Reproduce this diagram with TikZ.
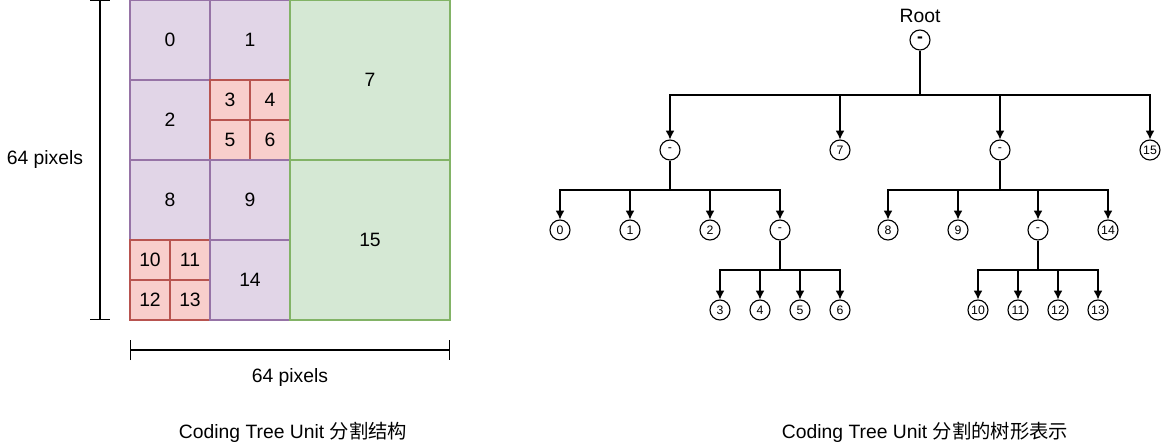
\documentclass[tikz,border=0pt]{standalone}
\usepackage{fontspec}
\setmainfont{Liberation Sans}
\newfontfamily\cjk{Noto Sans CJK SC}
\usepackage{xcolor}
\usetikzlibrary{arrows.meta, positioning, calc}
\definecolor{purpfill}{HTML}{E1D5E7}
\definecolor{purpline}{HTML}{9673A6}
\definecolor{redfill}{HTML}{F8CECC}
\definecolor{redline}{HTML}{B85450}
\definecolor{grnfill}{HTML}{D5E8D4}
\definecolor{grnline}{HTML}{82B366}
\tikzset{
	% blocks of the CTU
	blkp/.style={
		draw=purpline, fill=purpfill,
		line width=0.6pt, inner sep=0pt,
		minimum size=1.6cm,
		font=\fontsize{11}{13}\selectfont
	}, %
	blkr/.style={
		blkp, draw=redline, fill=redfill,
		minimum size=0.8cm
	}, %
	blkg/.style={
		blkp, draw=grnline, fill=grnfill,
		minimum size=3.2cm
	}, %
	% tree nodes
	tnode/.style={
		circle, draw, line width=0.65pt,
		inner sep=0pt, minimum size=0.4cm,
		font=\fontsize{7}{8}\selectfont
	}, %
	arr/.style={
		line width=0.65pt,
		-{Latex[length=5pt,width=5pt]}
	}, %
	txt/.style={font=\fontsize{11}{13}\selectfont}
}

\begin{document}
\begin{tikzpicture}[x=0.02cm, y=-0.02cm]
	\useasboundingbox (0,0) rectangle (1161,443);

	% grid
	\node[blkp] (b0) at (170,40) {0};
	\node[blkp] (b1) at (250,40) {1};
	\node[blkp] (b2) at (170,120) {2};
	\node[blkr] (b3) at (230,100) {3};
	\node[blkr] (b4) at (270,100) {4};
	\node[blkr] (b5) at (230,140) {5};
	\node[blkr] (b6) at (270,140) {6};
	\node[blkg] (b7) at (370,80) {7};
	\node[blkp] (b8) at (170,200) {8};
	\node[blkp] (b9) at (250,200) {9};
	\node[blkr] (b10) at (150,260) {10};
	\node[blkr] (b11) at (190,260) {11};
	\node[blkr] (b12) at (150,300) {12};
	\node[blkr] (b13) at (190,300) {13};
	\node[blkp] (b14) at (250,280) {14};
	\node[blkg] (b15) at (370,240) {15};

	% 64 pixels
	\coordinate (vt) at (100,0);
	\coordinate (vb) at (100,320);
	\draw[line width=0.6pt, {Bar[width=0.4cm]}-{Bar[width=0.4cm]}] (vt) -- (vb);
	\node[txt] (vlab) at (45,160) {64 pixels};
	\coordinate (hl) at (130,350);
	\coordinate (hr) at (450,350);
	\draw[line width=0.6pt, {Bar[width=0.4cm]}-{Bar[width=0.4cm]}] (hl) -- (hr);
	\node[txt] (hlab) at (290,377) {64 pixels};
	\node[txt] (capl) at (293,432) {Coding Tree Unit {\cjk 分割结构}};

	% tree
	\node[txt] (roottxt) at (920,16) {Root};
	\node[tnode, font=\fontsize{10}{11}\selectfont\bfseries] (root) at (920,40) {-};
	\node[tnode] (qa) at (670,150) {-};
	\node[tnode] (t7) at (840,150) {7};
	\node[tnode] (qb) at (1000,150) {-};
	\node[tnode] (t15) at (1150,150) {15};

	\node[tnode] (t0) at (560,230) {0};
	\node[tnode] (t1) at (630,230) {1};
	\node[tnode] (t2) at (710,230) {2};
	\node[tnode] (qc) at (780,230) {-};
	\node[tnode] (t8) at (888,230) {8};
	\node[tnode] (t9) at (958,230) {9};
	\node[tnode] (qd) at (1038,230) {-};
	\node[tnode] (t14) at (1108,230) {14};

	\node[tnode] (t3) at (720,310) {3};
	\node[tnode] (t4) at (760,310) {4};
	\node[tnode] (t5) at (800,310) {5};
	\node[tnode] (t6) at (840,310) {6};
	\node[tnode] (t10) at (978,310) {10};
	\node[tnode] (t11) at (1018,310) {11};
	\node[tnode] (t12) at (1058,310) {12};
	\node[tnode] (t13) at (1098,310) {13};

	% connectors
	\coordinate (busr) at (920,95);
	\draw[line width=0.65pt] (root) -- (busr);
	\foreach \c in {qa, t7, qb, t15}
		\draw[arr] (busr) -| (\c);

	\coordinate (busa) at (670,190);
	\draw[line width=0.65pt] (qa) -- (busa);
	\foreach \c in {t0, t1, t2, qc}
		\draw[arr] (busa) -| (\c);

	\coordinate (busb) at (1000,190);
	\draw[line width=0.65pt] (qb) -- (busb);
	\foreach \c in {t8, t9, qd, t14}
		\draw[arr] (busb) -| (\c);

	\coordinate (busc) at (780,270);
	\draw[line width=0.65pt] (qc) -- (busc);
	\foreach \c in {t3, t4, t5, t6}
		\draw[arr] (busc) -| (\c);

	\coordinate (busd) at (1038,270);
	\draw[line width=0.65pt] (qd) -- (busd);
	\foreach \c in {t10, t11, t12, t13}
		\draw[arr] (busd) -| (\c);

	\node[txt] (capr) at (925,432) {Coding Tree Unit {\cjk 分割的树形表示}};
\end{tikzpicture}
\end{document}
